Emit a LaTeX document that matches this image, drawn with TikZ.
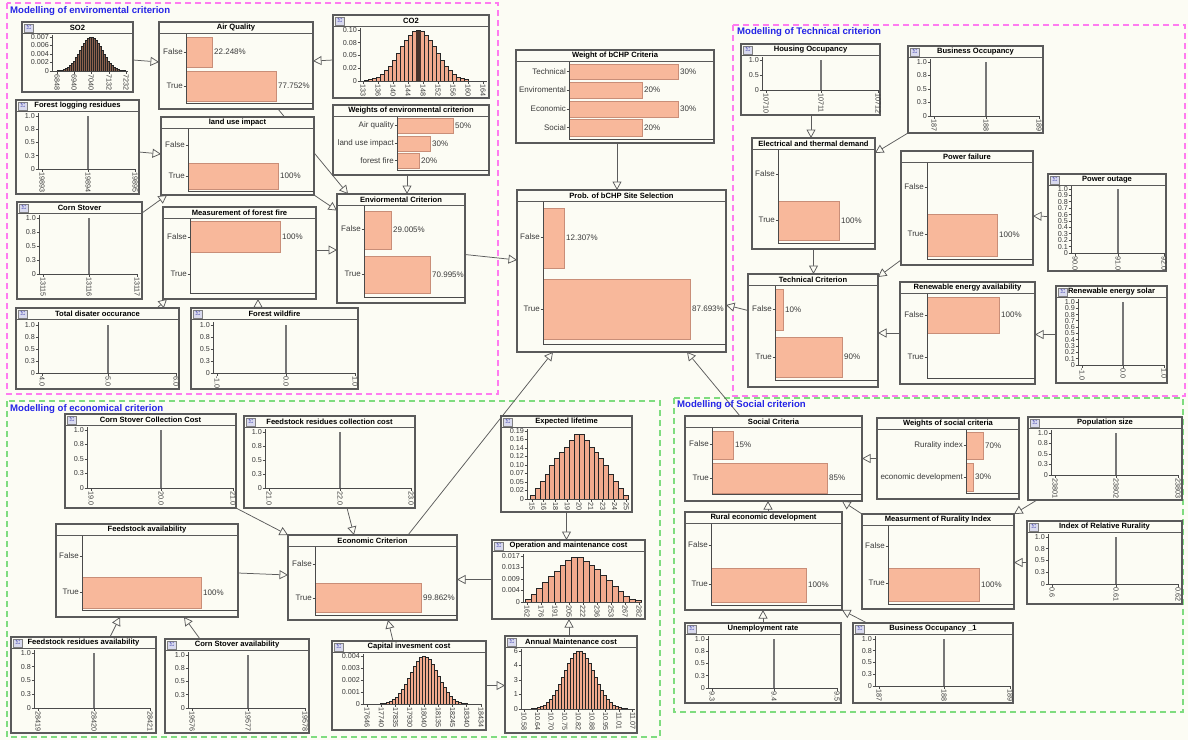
\documentclass[tikz,border=0pt]{standalone}
\usepackage{fontspec}
\setmainfont{Liberation Sans}
\usetikzlibrary{arrows.meta,shadows}

\definecolor{canvas}{HTML}{FCFCF4}
\definecolor{frame}{HTML}{5A5A5A}
\definecolor{axisc}{HTML}{4A4A4A}
\definecolor{labc}{HTML}{3A3A3A}
\definecolor{barfill}{HTML}{F8B89B}
\definecolor{baredge}{HTML}{C98E78}
\definecolor{histfill}{HTML}{F2AA8E}
\definecolor{spikec}{HTML}{777777}
\definecolor{linkc}{HTML}{5C5C5C}
\definecolor{grppink}{HTML}{FF7BF0}
\definecolor{grpgreen}{HTML}{7FDC7F}
\definecolor{grpblue}{HTML}{2424E6}
\definecolor{sigfill}{HTML}{D9DAEE}
\definecolor{sigtext}{HTML}{3535A8}

\pgfdeclarelayer{back}
\pgfdeclarelayer{edges}
\pgfsetlayers{back,edges,main}

\tikzset{
  panel/.style={draw=frame, line width=1.1pt, fill=canvas, anchor=north west,
    inner sep=0pt, outer sep=0pt,
    drop shadow={shadow xshift=1.2pt, shadow yshift=-1.2pt, fill=black!45, opacity=0.6}},
  tline/.style={draw=frame, line width=0.9pt},
  ttl/.style={font=\bfseries\fontsize{7.6}{8}\selectfont, inner sep=0pt},
  axis/.style={draw=axisc, line width=0.9pt},
  lbl/.style={font=\fontsize{8}{9}\selectfont, text=labc, inner sep=0.5pt},
  tick/.style={font=\fontsize{7.2}{8}\selectfont, text=labc, inner sep=0.4pt},
  xtick/.style={tick, rotate=-90, anchor=west},
  sbar/.style={fill=barfill, draw=baredge, line width=0.7pt},
  hbar/.style={fill=histfill, draw=black!85, line width=0.35pt},
  spike/.style={draw=spikec, line width=1.1pt},
  link/.style={draw=linkc, line width=0.75pt,
    -{Triangle[length=8.5pt, width=9pt, fill=canvas, line width=0.75pt]}},
  grp/.style={dash pattern=on 6pt off 4pt, line width=1.3pt},
  grptitle/.style={font=\bfseries\fontsize{9.6}{11}\selectfont, text=grpblue, anchor=west, inner sep=0pt},
  sigbox/.style={draw=gray, fill=sigfill, minimum width=9.5pt, minimum height=8pt,
    inner sep=0pt, font=\fontsize{6}{6}\selectfont, text=sigtext, anchor=north west}
}

% panel: name, x, y, width, height, title
\newcommand{\pnl}[6]{%
  \node[panel, minimum width=#4pt, minimum height=#5pt] (#1) at (#2,#3) {};
  \draw[tline] ([yshift=-11.5pt]#1.north west) -- ([yshift=-11.5pt]#1.north east);
  \node[ttl] at ([yshift=-6pt]#1.north) {#6};}
\newcommand{\sigicon}[1]{\node[sigbox] at ([xshift=1.8pt,yshift=-1.6pt]#1.north west) {$\Sigma$};}

% tick marks
\newcommand{\ytk}[3]{\draw[axis] ({#1-2.5},{#2}) -- ({#1},{#2});
  \node[tick, anchor=east] at ({#1-2.5},{#2}) {#3};}
\newcommand{\xtk}[3]{\draw[axis] ({#1},{#2}) -- ({#1},{#2+2.5});
  \node[xtick] at ({#1},{#2+2.5}) {#3};}

% single-value plot: axis x, y(1.0), y(0), right end, spike x, ticks, three labels
\newcommand{\spk}[9]{%
  \draw[axis] (#1,{#2-3}) -- (#1,#3) -- (#4,#3);
  \foreach \v/\t in #6 {\ytk{#1}{#3-\v*(#3-#2)}{\t}}
  \draw[spike] (#5,#3) -- (#5,#2);
  \xtk{#1+4}{#3}{#7}\xtk{#5}{#3}{#8}\xtk{#4}{#3}{#9}}
\def\qtk{1/1.0,0.75/0.8,0.5/0.5,0.25/0.3,0/0}
\def\htk{1/1.0,0.5/0.5,0/0}
\def\ttk{1/1.0,0.9/0.9,0.8/0.8,0.7/0.7,0.6/0.6,0.5/0.5,0.4/0.4,0.3/0.3,0.2/0.2,0.1/0.1,0/0}

% state bars: axis x, y, label / axis x, y1, y2, length, value
\newcommand{\catlab}[3]{\draw[axis] ({#1-2.5},{#2}) -- ({#1},{#2});
  \node[lbl, anchor=east] at ({#1-2.5},{#2}) {#3};}
\newcommand{\catbar}[5]{\draw[sbar] ({#1},{#2}) rectangle ({#1+#4},{#3});
  \node[lbl, anchor=west] at ({#1+#4+1.5},{(#2+#3)/2}) {#5};}
\newcommand{\bnaxis}[4]{\draw[axis] ({#1},{#2}) -- ({#1},{#3}) -- ({#4},{#3});}

% gaussian histogram: first x, bar count-1, bar width, mean, 2*sigma^2, height, base
\newcommand{\gauss}[7]{%
  \foreach \i in {0,...,#2} {
    \pgfmathsetmacro\xa{#1+\i*#3}
    \pgfmathsetmacro\hh{#6*exp(-((\xa+#3/2-#4)^2)/#5)}
    \draw[hbar] (\xa,#7) rectangle ++(#3,-\hh);}}

\begin{document}
\begin{tikzpicture}[x=1pt,y=-1pt]
\useasboundingbox (0,0) rectangle (1188,740);

\begin{pgfonlayer}{back}
  \fill[canvas] (0,0) rectangle (1188,740);
  \draw[grp, draw=grppink]  (7,3) rectangle (498,394);
  \draw[grp, draw=grppink]  (733,25) rectangle (1185,396);
  \draw[grp, draw=grpgreen] (7,401) rectangle (660,737);
  \draw[grp, draw=grpgreen] (674,398) rectangle (1183,712);
\end{pgfonlayer}

\node[grptitle] (genv)  at (10,11)  {Modelling of enviromental criterion};
\node[grptitle] (gtech) at (737,32) {Modelling of Technical criterion};
\node[grptitle] (gecon) at (10,409) {Modelling of economical criterion};
\node[grptitle] (gsoc)  at (677,405) {Modelling of Social criterion};

%================ environmental criterion ================
\pnl{so2}{22}{22}{111}{70}{SO2}\sigicon{so2}
\begin{scope}[hbar/.append style={fill=histfill!55!black!90!brown}]
\gauss{55}{34}{2}{91}{242}{34}{71}
\end{scope}
\draw[axis] (52,35) -- (52,71) -- (128,71);
\foreach \yy/\t in {37/0.007,45.5/0.006,54/0.004,62.5/0.002,71/0} {\ytk{52}{\yy}{\t}}
\foreach \xx/\t in {57/6848,74/6940,91/7040,109/7132,126/7232} {\xtk{\xx}{71}{\t}}

\pnl{airq}{159}{22}{154}{87}{Air Quality}
\catbar{186}{37}{67}{26}{22.248\%}
\catbar{186}{71}{101}{90}{77.752\%}
\bnaxis{186}{33.5}{103}{313}
\catlab{186}{52}{False}\catlab{186}{86}{True}

\pnl{co2}{333}{15}{156}{83}{CO2}\sigicon{co2}
\gauss{364}{25}{4}{418}{648}{51}{81}
\fill[black!70!histfill] (415.5,81) rectangle (420.5,30.5);
\draw[axis] (360,28) -- (360,81) -- (487,81);
\foreach \yy/\t in {30/0.10,42.75/0.08,55.5/0.05,68.25/0.02,81/0} {\ytk{360}{\yy}{\t}}
\foreach \t [count=\i from 0] in {133,136,140,144,148,152,156,160,164} {\xtk{363+15*\i}{81}{\t}}

\pnl{forlog}{16}{100}{123}{94}{Forest logging residues}\sigicon{forlog}
\spk{38}{116}{169}{135}{88}\qtk{19893}{19894}{19895}

\pnl{landuse}{161}{117}{153}{78}{land use impact}
\catbar{188}{163}{189}{90}{100\%}
\bnaxis{188}{128.5}{191}{314}
\catlab{188}{145}{False}\catlab{188}{176}{True}

\pnl{wenv}{333}{105}{156}{70}{Weights of environmental criterion}
\catbar{397}{118}{133}{56}{50\%}
\catbar{397}{136}{151}{33}{30\%}
\catbar{397}{153}{168}{22}{20\%}
\bnaxis{397}{116.5}{170}{489}
\catlab{397}{125.5}{Air quality}\catlab{397}{143.5}{land use impact}\catlab{397}{160.5}{forest fire}

\pnl{cornst}{17}{202}{125}{97}{Corn Stover}\sigicon{cornst}
\spk{39}{218}{274}{137}{89}\qtk{13115}{13116}{13117}

\pnl{mff}{163}{207}{153}{92}{Measurement of forest fire}
\catbar{190}{221}{252}{90}{100\%}
\bnaxis{190}{218.5}{293}{316}
\catlab{190}{237}{False}\catlab{190}{274}{True}

\pnl{envc}{337}{194}{128}{109}{Enviormental Criterion}
\catbar{364}{211}{249}{27}{29.005\%}
\catbar{364}{256}{293}{66}{70.995\%}
\bnaxis{364}{205.5}{297}{465}
\catlab{364}{229}{False}\catlab{364}{274}{True}

\pnl{tdo}{16}{308}{163}{81}{Total disater occurance}\sigicon{tdo}
\spk{38}{325}{373}{176}{108}\qtk{4.0}{5.0}{6.0}

\pnl{fwf}{191}{308}{167}{81}{Forest wildfire}\sigicon{fwf}
\spk{213}{325}{373}{355}{286}\qtk{-1.0}{0.0}{1.0}

%================ overall result ================
\pnl{wcrit}{516}{50}{198}{93}{Weight of bCHP Criteria}
\catbar{569}{64}{79}{109}{30\%}
\catbar{569}{82}{98}{73}{20\%}
\catbar{569}{101}{117}{109}{30\%}
\catbar{569}{119}{136}{73}{20\%}
\bnaxis{569}{61.5}{139}{714}
\catlab{569}{71.5}{Technical}\catlab{569}{90}{Enviromental}\catlab{569}{109}{Economic}\catlab{569}{127.5}{Social}

\pnl{prob}{517}{190}{209}{162}{Prob. of bCHP Site Selection}
\catbar{543}{208}{268}{21}{12.307\%}
\catbar{543}{279}{339}{147}{87.693\%}
\bnaxis{543}{201.5}{344}{726}
\catlab{543}{237}{False}\catlab{543}{309}{True}

%================ technical criterion ================
\pnl{hocc}{741}{44}{139}{71}{Housing Occupancy}\sigicon{hocc}
\spk{762}{60}{90}{878}{821}\htk{10710}{10711}{10712}

\pnl{bocc}{908}{46}{135}{87}{Business Occupancy}\sigicon{bocc}
\spk{930}{62}{116}{1039}{986}\qtk{187}{188}{189}

\pnl{etd}{752}{138}{123}{111}{Electrical and thermal demand}
\catbar{778}{201}{240}{61}{100\%}
\bnaxis{778}{149.5}{243}{875}
\catlab{778}{174}{False}\catlab{778}{220}{True}

\pnl{pfail}{901}{151}{132}{114}{Power failure}
\catbar{927}{214}{256}{70}{100\%}
\bnaxis{927}{162.5}{259}{1033}
\catlab{927}{187}{False}\catlab{927}{234}{True}

\pnl{pout}{1048}{174}{118}{97}{Power outage}\sigicon{pout}
\spk{1071}{189}{253}{1164}{1118}\ttk{90.0}{91.0}{92.0}

\pnl{tech}{748}{274}{130}{113}{Technical Criterion}
\catbar{775}{289}{330}{8}{10\%}
\catbar{775}{337}{377}{67}{90\%}
\bnaxis{775}{285.5}{380}{878}
\catlab{775}{309}{False}\catlab{775}{357}{True}

\pnl{rea}{900}{282}{135}{102}{Renewable energy availability}
\catbar{927}{297}{333}{72}{100\%}
\bnaxis{927}{293.5}{378}{1035}
\catlab{927}{315}{False}\catlab{927}{357}{True}

\pnl{res}{1056}{286}{111}{97}{Renewable energy solar}\sigicon{res}
\spk{1078}{302}{365}{1164}{1123}\ttk{-1.0}{0.0}{1.0}

%================ economical criterion ================
\pnl{cscc}{65}{414}{171}{94}{Corn Stover Collection Cost}\sigicon{cscc}
\spk{87}{430}{488}{233}{161}\qtk{19.0}{20.0}{21.0}

\pnl{frcc}{244}{416}{171}{92}{Feedstock residues collection cost}\sigicon{frcc}
\spk{265}{432}{488}{411}{340}\qtk{21.0}{22.0}{23.0}

\pnl{fa}{56}{524}{182}{93}{Feedstock availability}
\catbar{82}{577}{608}{119}{100\%}
\bnaxis{82}{535.5}{610}{238}
\catlab{82}{556}{False}\catlab{82}{592}{True}

\pnl{econ}{288}{535}{169}{85}{Economic Criterion}
\catbar{315}{583}{612}{106}{99.862\%}
\bnaxis{315}{546.5}{615}{457}
\catlab{315}{564}{False}\catlab{315}{598}{True}

\pnl{elife}{501}{416}{131}{96}{Expected lifetime}\sigicon{elife}
\foreach \hv [count=\i from 0] in {0.01,0.03,0.05,0.07,0.095,0.115,0.13,0.145,0.165,0.18,0.18,0.165,0.145,0.13,0.115,0.095,0.07,0.05,0.03,0.01}
  {\draw[hbar] ({530+\i*4.9},499) rectangle ++(4.9,{-\hv*357.9});}
\draw[axis] (527,429) -- (527,499) -- (628,499);
\foreach \t [count=\i from 0] in {0.19,0.16,0.14,0.12,0.10,0.07,0.05,0.02,0} {\ytk{527}{431+8.5*\i}{\t}}
\foreach \t [count=\i from 0] in {15,16,18,19,20,21,23,24,25} {\xtk{532+11.8*\i}{499}{\t}}

\pnl{omc}{492}{540}{153}{79}{Operation and maintenance cost}\sigicon{omc}
\foreach \hv [count=\i from 0] in {1,3,5,7.5,9.5,11.5,13.5,15.5,16.5,16.5,15,13.5,12,10,8,6,4,2,1,0.5}
  {\draw[hbar] ({525+\i*5.8},602) rectangle ++(5.8,{-\hv*2.706});}
\draw[axis] (523,554) -- (523,602) -- (642,602);
\foreach \yy/\t in {556/0.017,567.5/0.013,579/0.009,590.5/0.004,602/0} {\ytk{523}{\yy}{\t}}
\foreach \t [count=\i from 0] in {162,176,191,205,222,236,253,267,282} {\xtk{527+14*\i}{602}{\t}}

\pnl{fra}{11}{637}{145}{96}{Feedstock residues availability}\sigicon{fra}
\spk{34}{653}{708}{150}{94}\qtk{28419}{28420}{28421}

\pnl{csa}{165}{639}{144}{94}{Corn Stover availability}\sigicon{csa}
\spk{188}{655}{708}{305}{248}\qtk{19576}{19577}{19578}

\pnl{cic}{332}{641}{154}{89}{Capital invesment cost}\sigicon{cic}
\gauss{368}{36}{3}{424}{392}{48}{704}
\draw[axis] (363,654) -- (363,704) -- (482,704);
\foreach \yy/\t in {656/0.004,668/0.003,680/0.002,692/0.001,704/0} {\ytk{363}{\yy}{\t}}
\foreach \t [count=\i from 0] in {17646,17740,17835,17930,18040,18135,18245,18340,18434} {\xtk{367+14.25*\i}{704}{\t}}

\pnl{amc}{505}{636}{132}{97}{Annual Maintenance cost}\sigicon{amc}
\gauss{525}{35}{3}{579}{450}{58}{709}
\draw[axis] (521,649) -- (521,709) -- (635,709);
\foreach \yy/\t in {651/6,665.5/4,680/3,694.5/1,709/0} {\ytk{521}{\yy}{\t}}
\foreach \t [count=\i from 0] in {10.58,10.64,10.70,10.75,10.82,10.88,10.95,11.01,11.07} {\xtk{524+13.6*\i}{709}{\t}}

%================ social criterion ================
\pnl{socc}{685}{416}{177}{85}{Social Criteria}
\catbar{712}{431}{459}{21}{15\%}
\catbar{712}{463}{493}{115}{85\%}
\bnaxis{712}{427.5}{494}{862}
\catlab{712}{444}{False}\catlab{712}{478}{True}

\pnl{wsoc}{877}{418}{142}{81}{Weights of social criteria}
\catbar{966}{432}{459}{17}{70\%}
\catbar{966}{463}{491}{7}{30\%}
\bnaxis{966}{429.5}{493}{1019}
\catlab{966}{445.5}{Rurality index}\catlab{966}{477}{economic development}

\pnl{pop}{1028}{417}{154}{83}{Population size}\sigicon{pop}
\spk{1051}{433}{475}{1178}{1116}\qtk{23801}{23802}{23803}

\pnl{red}{685}{512}{157}{98}{Rural economic development}
\catbar{711}{568}{602}{95}{100\%}
\bnaxis{711}{523.5}{605}{842}
\catlab{711}{545}{False}\catlab{711}{584}{True}

\pnl{mri}{862}{514}{152}{95}{Measurment of Rurality Index}
\catbar{888}{568}{601}{91}{100\%}
\bnaxis{888}{525.5}{604}{1014}
\catlab{888}{546}{False}\catlab{888}{583}{True}

\pnl{irr}{1027}{521}{155}{83}{Index of Relative Rurality}\sigicon{irr}
\spk{1048}{537}{584}{1178}{1116}\qtk{0.6}{0.61}{0.62}

\pnl{unemp}{685}{623}{156}{80}{Unemployment rate}\sigicon{unemp}
\spk{708}{639}{688}{837}{774}\qtk{9.3}{9.4}{9.5}

\pnl{bocc1}{853}{623}{160}{80}{Business Occupancy \_1}\sigicon{bocc1}
\spk{875}{639}{686}{1010}{944}\qtk{187}{188}{189}

%================ dependencies ================
\begin{pgfonlayer}{edges}
  % environmental
  \draw[link] ([yshift=-3pt]so2.east) -- ([yshift=3.5pt]airq.west);
  \draw[link] ([yshift=-3.5pt]co2.west) -- ([yshift=4.5pt]airq.east);
  \draw[link] ([yshift=-5pt]forlog.east) -- ([yshift=2pt]landuse.west);
  \draw[link] ([xshift=42pt]airq.south) -- ([xshift=-53pt]envc.north);
  \draw[link] (landuse.south east) -- ([yshift=38pt]envc.west);
  \draw[link] ([xshift=-4pt]wenv.south) -- ([xshift=6pt]envc.north);
  \draw[link] ([yshift=3pt]mff.east) -- ([yshift=3pt]mff.east -| envc.west);
  \draw[link] ([yshift=-11pt]cornst.north east) -- ([xshift=6pt]landuse.south west);
  \draw[link] ([xshift=-22pt]tdo.north east) -- ([xshift=4pt]mff.south west);
  \draw[link] ([xshift=-16.5pt]fwf.north) -- ([xshift=18.5pt]mff.south);
  \draw[link] ([yshift=-6pt]envc.east) -- ([yshift=11pt]prob.west);
  \draw[link] ([xshift=2pt]wcrit.south) -- ([xshift=-4.5pt]prob.north);
  % technical
  \draw[link] ([xshift=0.5pt]hocc.south) -- ([xshift=-2.5pt]etd.north);
  \draw[link] (bocc.south west) -- ([yshift=-15pt]etd.north east);
  \draw[link] (etd.south) -- (etd.south |- tech.north);
  \draw[link] ([yshift=5pt]pfail.south west) -- ([yshift=-3pt]tech.north east);
  \draw[link] ([yshift=6pt]pout.west) -- ([yshift=-8pt]pfail.east);
  \draw[link] (rea.west) -- (rea.west -| tech.east);
  \draw[link] (res.west) -- (res.west -| rea.east);
  \draw[link] ([yshift=20pt]tech.west) -- ([yshift=-34pt]prob.east);
  % economical
  \draw[link] (cscc.south east) -- (econ.north west);
  \draw[link] ([xshift=17.5pt]frcc.south) -- ([xshift=-18.5pt]econ.north);
  \draw[link] ([yshift=-2.5pt]fa.east) -- ([yshift=2.5pt]econ.west);
  \draw[link] (omc.west) -- (omc.west -| econ.east);
  \draw[link] (elife.south) -- (elife.south |- omc.north);
  \draw[link] ([xshift=35.5pt]econ.north) -- ([xshift=-68.5pt]prob.south);
  \draw[link] ([xshift=26.5pt]fra.north) -- ([xshift=-27pt]fa.south);
  \draw[link] ([xshift=-37pt]csa.north) -- ([xshift=37pt]fa.south);
  \draw[link] ([xshift=-16pt]cic.north) -- ([xshift=15.5pt]econ.south);
  \draw[link] (cic.east) -- (cic.east -| amc.west);
  \draw[link] ([xshift=-2pt]amc.north) -- ([xshift=0.5pt]omc.south);
  % social
  \draw[link] ([xshift=-33.5pt]socc.north) -- ([xshift=65.5pt]prob.south);
  \draw[link] (wsoc.west) -- (wsoc.west -| socc.east);
  \draw[link] ([xshift=4.5pt]red.north) -- ([xshift=-5.5pt]socc.south);
  \draw[link] (mri.north west) -- ([xshift=-20pt]socc.south east);
  \draw[link] ([xshift=9pt]pop.south west) -- (mri.north east);
  \draw[link] (irr.west) -- (irr.west -| mri.east);
  \draw[link] (unemp.north) -- (unemp.north |- red.south);
  \draw[link] ([xshift=14pt]bocc1.north west) -- (red.south east);
\end{pgfonlayer}
\end{tikzpicture}
\end{document}
